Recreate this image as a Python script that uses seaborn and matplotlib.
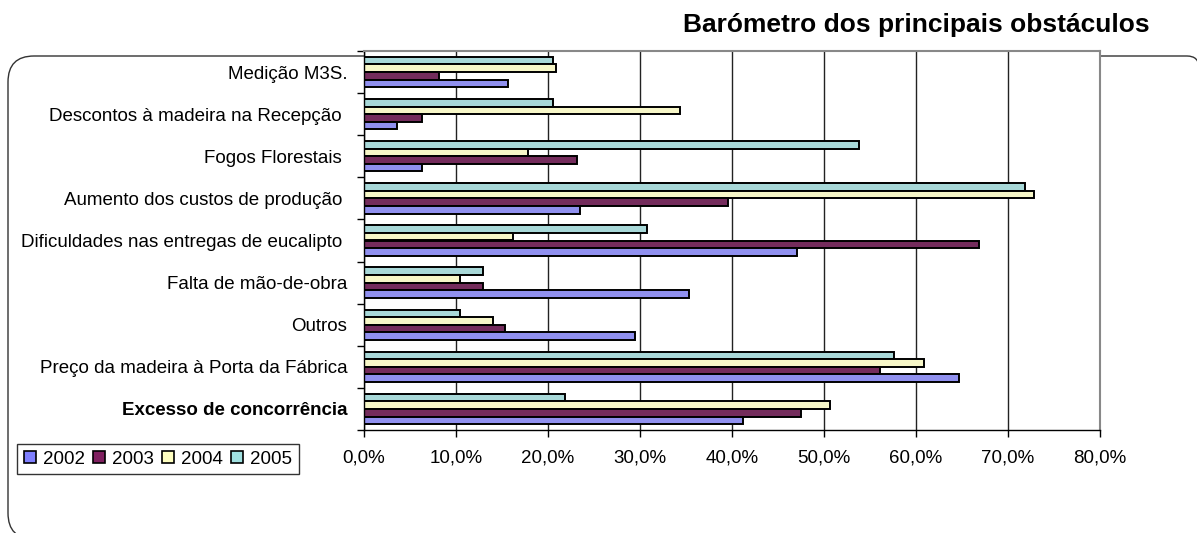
import matplotlib
matplotlib.use("Agg")
import matplotlib.pyplot as plt
import seaborn as sns
import pandas as pd
from matplotlib.patches import Patch, PathPatch
from matplotlib.path import Path
from matplotlib.ticker import FuncFormatter, MultipleLocator

categories = [
    "Medição M3S.",
    "Descontos à madeira na Recepção ",
    "Fogos Florestais ",
    "Aumento dos custos de produção ",
    "Dificuldades nas entregas de eucalipto ",
    "Falta de mão-de-obra",
    "Outros",
    "Preço da madeira à Porta da Fábrica",
    "Excesso de concorrência",
]
years = ["2002", "2003", "2004", "2005"]
v2002 = [15.7, 3.6, 6.3, 23.5, 47.1, 35.3, 29.5, 64.7, 41.2]
v2003 = [8.2, 6.3, 23.2, 39.6, 66.8, 12.9, 15.3, 56.1, 47.5]
v2004 = [20.9, 34.3, 17.8, 72.8, 16.2, 10.4, 14.0, 60.9, 50.6]
v2005 = [20.5, 20.5, 53.8, 71.8, 30.8, 12.9, 10.4, 57.6, 21.8]
colors = {"2002": "#8080FF", "2003": "#802060", "2004": "#FFFFC0", "2005": "#A0E0E0"}
title = "Barómetro dos principais obstáculos"

rows = []
for y, vals in zip(years, [v2002, v2003, v2004, v2005]):
    for c, v in zip(categories, vals):
        rows.append({"cat": c, "year": y, "val": v})
df = pd.DataFrame(rows)

sns.set_style("white")
plt.rcParams["font.family"] = ["Liberation Sans", "DejaVu Sans"]
plt.rcParams["text.color"] = "black"
plt.rcParams["xtick.color"] = "black"
plt.rcParams["ytick.color"] = "black"
plt.rcParams["axes.labelcolor"] = "black"
FS = 13.5

W, H = 1197, 533
fig = plt.figure(figsize=(W / 100, H / 100), dpi=100)
ax = fig.add_axes([364 / W, (H - 430) / H, (1100 - 364) / W, (430 - 51) / H])

hue_order = ["2005", "2004", "2003", "2002"]
sns.barplot(data=df, y="cat", x="val", hue="year", order=categories,
            hue_order=hue_order, palette=colors, orient="h", width=0.72,
            edgecolor="black", linewidth=1.4, ax=ax, legend=False, errorbar=None)

ax.set_xlim(0, 80)
ax.set_ylim(len(categories) - 0.5, -0.5)
ax.xaxis.set_major_locator(MultipleLocator(10))
ax.xaxis.set_major_formatter(FuncFormatter(lambda v, p: f"{v:.1f}%".replace(".", ",")))
ax.grid(axis="x", color="#222222", linewidth=1.0)
ax.grid(axis="y", visible=False)
ax.set_axisbelow(True)
ax.set_xlabel("")
ax.set_ylabel("")

# category boundary ticks
ax.set_yticks([i + 0.5 for i in range(-1, len(categories))], minor=True)
ax.tick_params(axis="y", which="minor", length=5, width=1, color="black", direction="out", left=True)
ax.tick_params(axis="y", which="major", length=0, pad=12, labelsize=FS, labelcolor="black")
ax.tick_params(axis="x", which="major", length=5, width=1, color="black", direction="out",
               bottom=True, pad=9, labelsize=FS, labelcolor="black")
for lbl in ax.get_yticklabels():
    if lbl.get_text().startswith("Excesso"):
        lbl.set_fontweight("bold")

for s in ["left", "bottom"]:
    ax.spines[s].set_color("black")
    ax.spines[s].set_linewidth(1.0)
for s in ["top", "right"]:
    ax.spines[s].set_color("#888888")
    ax.spines[s].set_linewidth(1.5)

fig.text(1150 / W, 1 - 32 / H, title, ha="right", va="baseline",
         fontsize=19, fontweight="bold", color="black")

handles = [Patch(facecolor=colors[y], edgecolor="black", linewidth=1.2, label=y) for y in years]
leg = fig.legend(handles=handles, ncol=4, loc="center left",
                 bbox_to_anchor=(8 / W, 1 - 459 / H), fontsize=FS,
                 frameon=True, fancybox=False, handlelength=0.65, handleheight=0.65,
                 handletextpad=0.35, columnspacing=0.45, borderpad=0.35)
leg.get_frame().set_edgecolor("black")
leg.get_frame().set_linewidth(1.0)
for t in leg.get_texts():
    t.set_color("black")

# decorative rounded frame (pixel coordinates from top-left -> inches)
def P(x, y):
    return (x / 100.0, (H - y) / 100.0)

verts = [P(1199, 560), P(1199, 68), P(1199, 56), P(1187, 56),
         P(34, 56), P(8, 56), P(8, 82),
         P(8, 513), P(8, 539), P(34, 539), P(1199, 539)]
codes = [Path.MOVETO, Path.LINETO, Path.CURVE3, Path.CURVE3,
         Path.LINETO, Path.CURVE3, Path.CURVE3,
         Path.LINETO, Path.CURVE3, Path.CURVE3, Path.LINETO]
frame = PathPatch(Path(verts, codes), transform=fig.dpi_scale_trans,
                  facecolor="none", edgecolor="#333333", linewidth=1.0, zorder=-1)
fig.patches.append(frame)

fig.savefig("out.png", dpi=100)
